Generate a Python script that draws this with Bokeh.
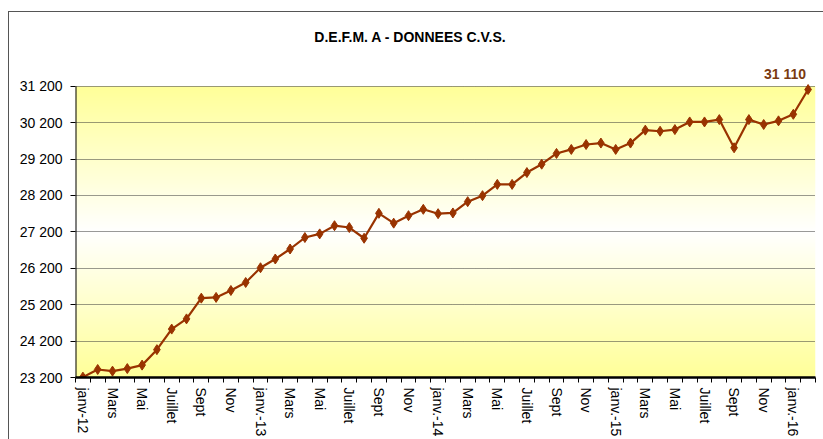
import numpy as np
from bokeh.plotting import figure
from bokeh.models import Range1d, FixedTicker, LinearAxis, InlineStyleSheet
from bokeh.core.properties import value
from bokeh.embed import file_html
from bokeh.resources import INLINE

# ---- data -------------------------------------------------------------
month_names = ["janv", "févr", "Mars", "Avr", "Mai", "Juin",
               "Juillet", "Août", "Sept", "Oct", "Nov", "Déc"]
years = ["12", "13", "14", "15", "16"]
periods = []
for y in years:
    for m in month_names:
        periods.append(m + ".-" + y if m == "janv" else m)
periods = periods[:50]
periods[0] = "janv-12"

values = [23210, 23420, 23375, 23445, 23540, 23965, 24530, 24810, 25380, 25400, 25590, 25810,
          26215, 26455, 26730, 27045, 27145, 27370, 27320, 27025, 27710, 27440, 27645, 27820,
          27700, 27720, 28030, 28195, 28505, 28505, 28830, 29060, 29355, 29465, 29600, 29640,
          29465, 29640, 29995, 29965, 30010, 30220, 30220, 30285, 29510, 30285, 30150, 30250,
          30430, 31110]

y_ticks = [23200, 24200, 25200, 26200, 27200, 28200, 29200, 30200, 31200]
y_tick_labels = ["23 200", "24 200", "25 200", "26 200", "27 200",
                 "28 200", "29 200", "30 200", "31 200"]
title_text = "D.E.F.M. A - DONNEES C.V.S."
last_label = "31 110"

# ---- layout -----------------------------------------------------------
W, H = 823, 439
BL, BR, BT, BB = 75, 8, 86, 61          # plot-area position inside the canvas
area_w = W - BL - BR
area_h = H - BT - BB

n = len(periods)
xs = [i + 0.5 for i in range(n)]
y0, y1 = y_ticks[0], y_ticks[-1]
px_x = area_w / n
px_y = area_h / (y1 - y0)
y_top = y1 + BT / px_y                   # frame reaches the canvas top

p = figure(width=W, height=H, output_backend="svg", toolbar_location=None,
           x_range=Range1d(0, n), y_range=Range1d(y0, y_top),
           min_border_left=BL, min_border_right=BR, min_border_top=0, min_border_bottom=BB)
p.outline_line_color = None
p.background_fill_color = "white"
p.border_fill_color = "white"

# outer chart frame (left + top edges) drawn with CSS
p.stylesheets = [InlineStyleSheet(css=(
    ":host::after { content: ''; position: absolute; left: 8px; top: 11px; "
    "right: 0; bottom: 0; border-left: 1px solid #555; border-top: 1px solid #555; "
    "pointer-events: none; }"))]

# gradient background (yellow -> white -> yellow) on the plot area only
rows = 400
t = np.linspace(0.0, 1.0, rows)
w = 1.0 - np.abs(t - 0.5) * 2.0
img = np.empty((rows, 1), dtype=np.uint32)
view = img.view(dtype=np.uint8).reshape((rows, 1, 4))
view[:, :, 0] = 255
view[:, :, 1] = 255
view[:, :, 2] = (153 + (255 - 153) * w).astype(np.uint8).reshape(rows, 1)
view[:, :, 3] = 255
bg = p.image_rgba(image=[img], x=0, y=y0, dw=n, dh=y1 - y0)
bg.level = "image"

# y axis rule (only over the plot area)
p.segment(x0=[0], y0=[y0], x1=[0], y1=[y1], line_color="black", line_width=2)

# series
brown = "#993300"
p.line(xs, values, line_color=brown, line_width=2.2)
p.scatter(xs, values, marker="diamond", size=10, fill_color=brown, line_color=brown)

# title and last-value label
p.text(x=[n / 2 - 35 / px_x], y=[y1 + 49 / px_y], text=[title_text],
       text_align="center", text_baseline="middle",
       text_font=value("Liberation Sans"), text_font_style="bold",
       text_font_size="14px", text_color="black")
p.text(x=[xs[-1] - 23 / px_x], y=[values[-1] + 16 / px_y], text=[last_label],
       text_align="center", text_baseline="middle",
       text_font=value("Liberation Sans"), text_font_style="bold",
       text_font_size="14px", text_color="#7A3A10")

# x axis 1: thick rule with tick marks at category boundaries (no labels)
p.xaxis.ticker = FixedTicker(ticks=[], minor_ticks=list(range(0, n + 1)))
p.xaxis.major_tick_line_color = None
p.xaxis.minor_tick_out = 5
p.xaxis.minor_tick_in = 0
p.xaxis.minor_tick_line_color = "black"
p.xaxis.minor_tick_line_width = 1
p.xaxis.axis_line_color = "black"
p.xaxis.axis_line_width = 2.5
p.xaxis.major_label_standoff = 0

# x axis 2: month labels at category centres
lab_axis = LinearAxis(ticker=FixedTicker(ticks=[xs[i] for i in range(0, n, 2)], minor_ticks=[]))
lab_axis.major_label_overrides = {xs[i]: periods[i] for i in range(0, n, 2)}
lab_axis.major_label_orientation = "vertical"
lab_axis.axis_line_color = None
lab_axis.major_tick_line_color = None
lab_axis.minor_tick_line_color = None
lab_axis.major_tick_out = 0
lab_axis.major_tick_in = 0
lab_axis.major_label_standoff = 5
lab_axis.major_label_text_font = "Liberation Sans"
lab_axis.major_label_text_font_size = "14px"
lab_axis.major_label_text_color = "black"
p.add_layout(lab_axis, "below")

# y axis
p.yaxis.ticker = FixedTicker(ticks=y_ticks, minor_ticks=[])
p.yaxis.major_label_overrides = {v: s for v, s in zip(y_ticks, y_tick_labels)}
p.yaxis.major_tick_out = 5
p.yaxis.major_tick_in = 0
p.yaxis.minor_tick_line_color = None
p.yaxis.axis_line_color = None
p.yaxis.major_tick_line_color = "black"
p.yaxis.major_label_standoff = 8
p.yaxis.major_label_text_font = "Liberation Sans"
p.yaxis.major_label_text_font_size = "14px"
p.yaxis.major_label_text_color = "black"

p.xgrid.visible = False
p.ygrid.grid_line_color = "#333333"
p.ygrid.grid_line_dash = "1 1"
p.ygrid.grid_line_width = 1

open("out.html", "w").write(file_html(p, INLINE))
